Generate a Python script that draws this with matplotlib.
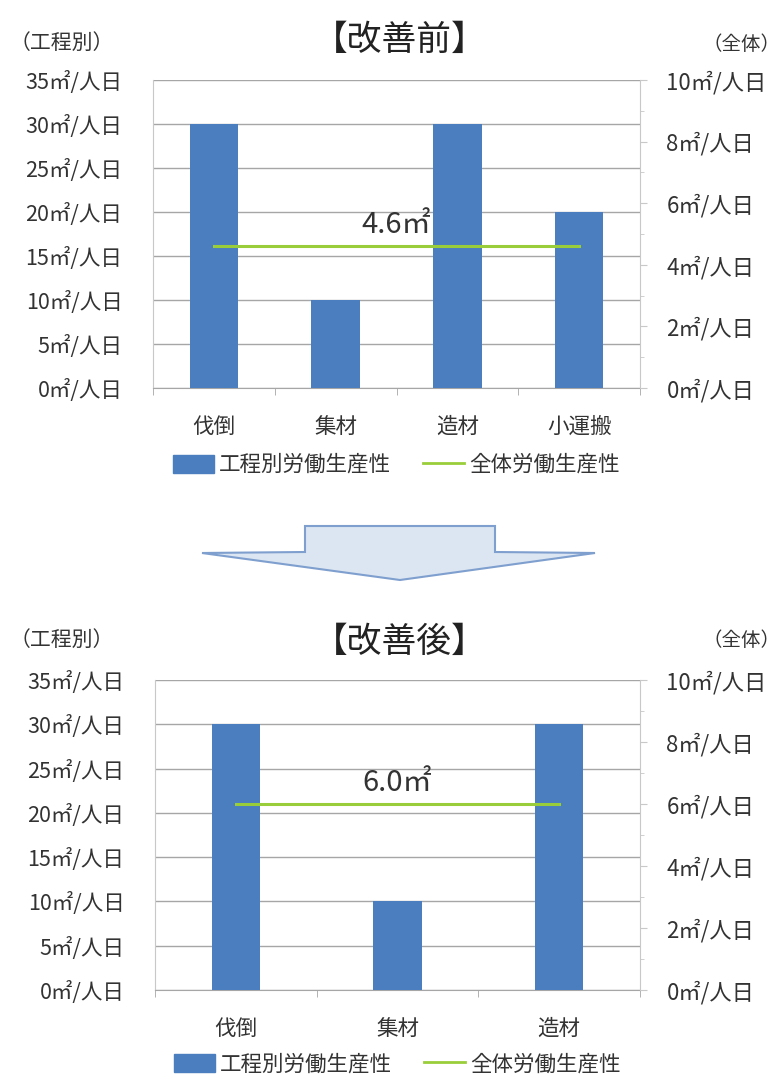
import matplotlib
matplotlib.use("Agg")
import matplotlib.pyplot as plt
from matplotlib.patches import Patch, Polygon
from matplotlib.lines import Line2D

plt.rcParams['font.family'] = ['Noto Sans CJK JP', 'DejaVu Sans']

# ---- data ----
cats_before = ['伐倒', '集材', '造材', '小運搬']
vals_before = [30, 10, 30, 20]
total_before = 4.6

cats_after = ['伐倒', '集材', '造材']
vals_after = [30, 10, 30]
total_after = 6.0

left_ticks = [0, 5, 10, 15, 20, 25, 30, 35]
right_ticks = [0, 2, 4, 6, 8, 10]
title_before = '【改善前】'
title_after = '【改善後】'
legend_bar = '工程別労働生産性'
legend_line = '全体労働生産性'

BAR = '#4a7ebf'
LINE = '#9acd3a'
GRID = '#a6a6a6'
TXT = '#333333'

W, H = 781, 1081
fig = plt.figure(figsize=(W / 100, H / 100), dpi=100)


def px_axes(x0, y_top, x1, y_bot):
    return fig.add_axes([x0 / W, 1 - y_bot / H, (x1 - x0) / W, (y_bot - y_top) / H])


def draw(ax, cats, vals, total, title, title_y, label_y_off, bar_w):
    n = len(cats)
    x = list(range(n))
    ax.bar(x, vals, width=bar_w, color=BAR, zorder=3)
    ax.set_xlim(-0.5, n - 0.5)
    ax.set_ylim(0, 35)
    ax.set_yticks(left_ticks)
    ax.set_yticklabels([f'{v}㎡/人日' for v in left_ticks], fontsize=15.5, color=TXT)
    ax.set_xticks(x)
    ax.set_xticklabels(cats, fontsize=15.5, color=TXT)
    ax.set_xticks([i + 0.5 for i in range(-1, n)], minor=True)
    ax.tick_params(axis='x', which='major', length=0, pad=20)
    ax.tick_params(axis='x', which='minor', length=5, color=GRID)
    ax.tick_params(axis='y', length=0, pad=22)
    ax.grid(axis='y', color=GRID, linewidth=1.0, zorder=0)
    for s in ['top', 'right']:
        ax.spines[s].set_visible(False)
    ax.spines['left'].set_color('#c8c8c8')
    ax.spines['bottom'].set_color(GRID)

    ax2 = ax.twinx()
    ax2.set_ylim(0, 10)
    ax2.set_yticks(right_ticks)
    ax2.set_yticklabels([f'{v}㎡/人日' for v in right_ticks], fontsize=16, color=TXT)
    ax2.set_yticks([1, 3, 5, 7, 9], minor=True)
    ax2.tick_params(axis='y', which='major', length=5, color='#c8c8c8', pad=14)
    ax2.tick_params(axis='y', which='minor', length=3, color='#c8c8c8')
    for s in ['top', 'left', 'bottom']:
        ax2.spines[s].set_visible(False)
    ax2.spines['right'].set_color('#c8c8c8')
    ax2.plot([0, n - 1], [total, total], color=LINE, linewidth=2.2, zorder=4)
    ax2.text((n - 1) / 2, total + 0.2, f'{total:.1f}㎡', ha='center', va='bottom',
             fontsize=21, color=TXT)

    handles = [Patch(facecolor=BAR, edgecolor=BAR),
               Line2D([0], [0], color=LINE, linewidth=2)]
    ax.legend(handles, [legend_bar, legend_line], loc='center',
              bbox_to_anchor=(0.5, label_y_off), ncol=2, frameon=False,
              fontsize=15.5, handlelength=1.9, handleheight=0.9, columnspacing=1.5,
              handletextpad=0.25, labelcolor=TXT)

    fig.text(400 / W, 1 - title_y / H, title, ha='center', va='center',
             fontsize=25, color='#222222')


ax_top = px_axes(153, 80, 640, 388)
draw(ax_top, cats_before, vals_before, total_before, title_before, 40, -0.25, 0.4)
fig.text(62 / W, 1 - 43 / H, '（工程別）', ha='center', va='center', fontsize=15, color=TXT)
fig.text(742 / W, 1 - 45 / H, '（全体）', ha='center', va='center', fontsize=14, color=TXT)

ax_bot = px_axes(155, 680, 640, 990)
draw(ax_bot, cats_after, vals_after, total_after, title_after, 642, -0.24, 0.3)
fig.text(62 / W, 1 - 640 / H, '（工程別）', ha='center', va='center', fontsize=15, color=TXT)
fig.text(742 / W, 1 - 640 / H, '（全体）', ha='center', va='center', fontsize=14, color=TXT)

# arrow
pts = [(305, 526), (495, 526), (495, 552), (595, 553), (400, 580), (202, 553), (305, 552)]
arrow = Polygon([(px / W, 1 - py / H) for px, py in pts], closed=True,
                transform=fig.transFigure, facecolor='#dce6f2', edgecolor='#7f9fcf',
                linewidth=1.5)
fig.patches.append(arrow)

fig.savefig('out.png', dpi=100)
